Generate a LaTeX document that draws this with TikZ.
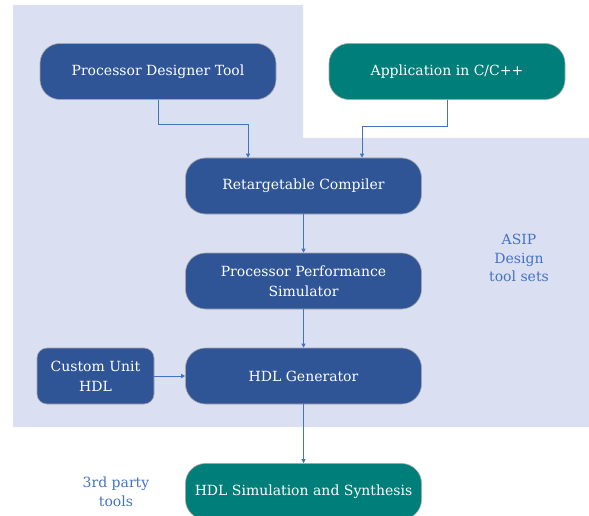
\documentclass[tikz,border=0pt]{standalone}
\usepackage{fontspec}
\setmainfont{DejaVu Serif}
\usetikzlibrary{arrows.meta}
\definecolor{panel}{HTML}{DAE0F2}
\definecolor{boxblue}{HTML}{2F5597}
\definecolor{boxteal}{HTML}{007E79}
\definecolor{linkblue}{HTML}{4472C4}
\definecolor{edgegrey}{HTML}{A6A6A6}
\tikzset{
  x=1pt, y=-1pt,
  stage/.style={draw=edgegrey, line width=0.6pt, fill=boxblue, text=white,
    rounded corners=20pt, minimum width=236pt, minimum height=56pt,
    align=center, font=\fontsize{14}{20}\selectfont, inner sep=0pt},
  thirdparty/.style={stage, fill=boxteal},
  smallbox/.style={stage, rounded corners=10pt, minimum width=117pt},
  flow/.style={draw=linkblue, line width=0.7pt,
    -{Triangle[length=4pt, width=4pt]}},
  note/.style={text=linkblue, align=center, font=\fontsize{14}{18.5}\selectfont}
}
\begin{document}
\begin{tikzpicture}
\useasboundingbox (0,0) rectangle (589,516);
\clip (0,0) rectangle (589,516);
% tool-set panel
\fill[panel] (13,5) -- (303,5) -- (303,138) -- (589,138) -- (589,427) -- (13,427) -- cycle;

\node[stage] (pdt) at (158,71.5) {Processor Designer Tool};
\node[thirdparty] (app) at (447,71.5) {Application in C/C++};
\node[stage] (rc) at (303.5,186) {Retargetable Compiler};
\node[stage] (pps) at (303.5,281) {Processor Performance\\Simulator};
\node[stage] (hdl) at (303.5,376) {HDL Generator};
\node[smallbox] (cu) at (95.5,376) {Custom Unit\\HDL};
\node[thirdparty] (sim) at (303.5,491.5) {HDL Simulation and Synthesis};

\node[note] (asip) at (519,258) {ASIP\\Design\\tool sets};
\node[note] (third) at (116,492) {3rd party\\tools};

\coordinate (pdtturn) at (158,124);
\coordinate (appturn) at (447,126);
\draw[flow] (pdt.south) -- (pdtturn) -| ([xshift=-55.5pt]rc.north);
\draw[flow] (app.south) -- (appturn) -| ([xshift=58.5pt]rc.north);
\draw[flow] (rc) -- (pps);
\draw[flow] (pps) -- (hdl);
\draw[flow] (cu) -- (hdl);
\draw[flow] (hdl) -- (sim);
\end{tikzpicture}
\end{document}
